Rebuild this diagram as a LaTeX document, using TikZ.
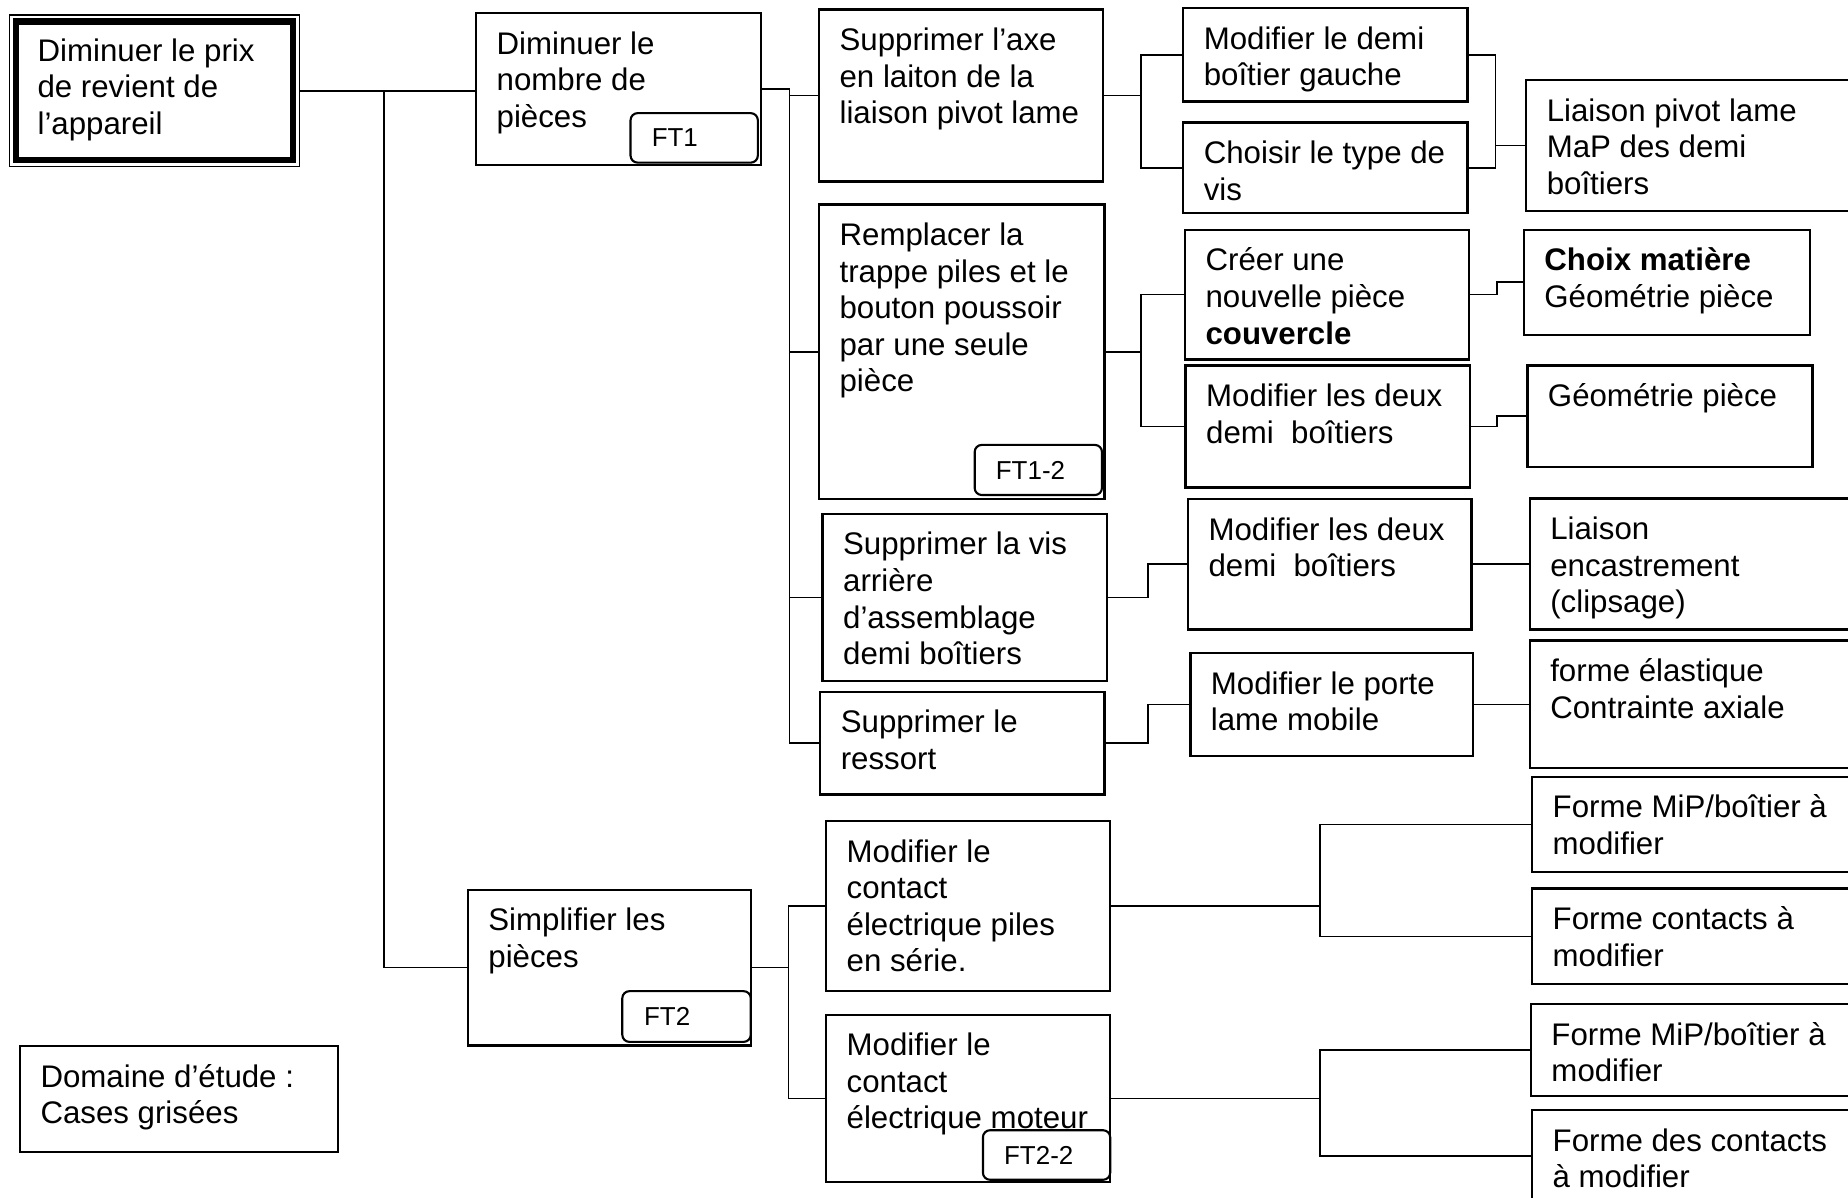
\documentclass[tikz,border=0pt]{standalone}
\usepackage{fontspec}
\setmainfont{Liberation Sans}
\tikzset{
  boxst/.style={draw, line width=1pt, inner sep=0pt, rectangle},
  txtst/.style={font=\fontsize{13.25}{15.5}\selectfont, align=left, inner sep=0pt, anchor=north west},
  tagst/.style={draw, fill=white, line width=0.9pt, rounded corners=3pt, inner sep=0pt,
                text width=36pt, align=left, font=\fontsize{11}{13}\selectfont},
  conn/.style={line width=0.7pt}
}
\newcommand\mkbox[6]{%
  \node[boxst, minimum width={(#4-#2)*0.5pt}, minimum height={(#5-#3)*0.5pt}] (#1) at ({(#2+#4)/2},{(#3+#5)/2}) {};
  \node[txtst] (#1t) at ([xshift=9pt,yshift=-6.9pt]#1.north west) {\strut #6};
}
\newcommand\mktag[6]{%
  \node[tagst, minimum width={(#4-#2)*0.5pt}, minimum height={(#5-#3)*0.5pt}] (#1) at ({(#2+#4)/2},{(#3+#5)/2}) {#6};
}
\begin{document}
\begin{tikzpicture}[x=0.5pt,y=-0.5pt]
\useasboundingbox (0,0) rectangle (1568,1016);
\fill[white] (0,0) rectangle (1568,1016);
\clip (0,0) rectangle (1568,1016);

% main box
\node[draw, line width=0.5pt, inner sep=0pt, minimum width={(254-8.4)*0.5pt}, minimum height={(141.4-12.7)*0.5pt}] (A) at ({(8.4+254)/2},{(12.7+141.4)/2}) {};
\draw[line width=2.6pt] ([shift={(3pt,-3pt)}]A.north west) rectangle ([shift={(-3pt,3pt)}]A.south east);
\node[txtst] (At) at ([xshift=11.8pt,yshift=-8.9pt]A.north west) {\strut Diminuer le prix\\de revient de\\l’appareil};

% level 2
\mkbox{B1}{404}{11}{645.5}{140}{Diminuer le\\nombre de\\pièces}
\mkbox{B2}{397}{755}{637}{887}{Simplifier les\\pièces}

% level 3
\mkbox{C1}{695}{8}{936}{154}{Supprimer l’axe\\en laiton de la\\liaison pivot lame}
\mkbox{C2}{695}{173.5}{937}{423.4}{Remplacer la\\trappe piles et le\\bouton poussoir\\par une seule\\pièce}
\mkbox{C3}{698}{436}{939}{578}{Supprimer la vis\\arrière\\d’assemblage\\demi boîtiers}
\mkbox{C4}{696}{587}{937}{674}{Supprimer le\\ressort}
\mkbox{C5}{701}{696.5}{942}{841}{Modifier le\\contact\\électrique piles\\en série.}
\mkbox{C6}{701}{861}{942}{1003}{Modifier le\\contact\\électrique moteur}

% level 4
\mkbox{D1}{1004}{7}{1245}{86}{Modifier le demi\\boîtier gauche}
\mkbox{D2}{1004}{104}{1245}{181}{Choisir le type de\\vis}
\mkbox{D3}{1005.5}{195}{1246.5}{305}{Créer une\\nouvelle pièce\\\textbf{couvercle}}
\mkbox{D4}{1006}{310}{1247.5}{413.6}{Modifier les deux\\demi\ \ boîtiers}
\mkbox{D5}{1008}{423.6}{1248.5}{534}{Modifier les deux\\demi\ \ boîtiers}
\mkbox{D6}{1010}{554}{1250}{641.5}{Modifier le porte\\lame mobile}

% level 5
\mkbox{E1}{1295}{68}{1590}{179}{Liaison pivot lame\\MaP des demi\\boîtiers}
\mkbox{E2}{1293}{195}{1536}{284}{\textbf{Choix matière}\\Géométrie pièce}
\mkbox{E3}{1296}{310}{1538}{396}{Géométrie pièce}
\mkbox{E4}{1298}{423}{1590}{534}{Liaison\\encastrement\\(clipsage)}
\mkbox{E5}{1298}{543.6}{1590}{651.7}{forme élastique\\Contrainte axiale}
\mkbox{E6}{1300}{659}{1590}{740}{Forme MiP/boîtier à\\modifier}
\mkbox{E7}{1300}{754}{1590}{835}{Forme contacts à\\modifier}
\mkbox{E8}{1299}{852}{1590}{930}{Forme MiP/boîtier à\\modifier}
\mkbox{E9}{1300}{942}{1590}{1020}{Forme des contacts\\à modifier}

% legend
\mkbox{Dom}{17}{887.5}{287}{977.5}{Domaine d’étude :\\Cases grisées}

% junction x positions
\coordinate (j0) at (326,0);
\coordinate (j1) at (670,0);
\coordinate (j2) at (968,0);
\coordinate (j3) at (1269,0);
\coordinate (j5) at (1270,0);
\coordinate (j6) at (974,0);
\coordinate (j7) at (669,0);
\coordinate (j8) at (1120,0);

% connectors
\draw[conn] (A.east) -- (A.east -| B1.west);
\draw[conn] (A.east -| j0) |- (B2.west);

\draw[conn] (B1.east) -- (B1.east -| j1) -- (C4.west -| j1) -- (C4.west);
\draw[conn] (C1.west -| j1) -- (C1.west);
\draw[conn] (C2.west -| j1) -- (C2.west);
\draw[conn] (C3.west -| j1) -- (C3.west);

\draw[conn] (C1.east) -- (C1.east -| j2);
\draw[conn] (D1.west) -- (D1.west -| j2) -- (D2.west -| j2) -- (D2.west);
\draw[conn] (D1.east) -- (D1.east -| j3) -- (D2.east -| j3) -- (D2.east);
\draw[conn] (E1.west -| j3) -- (E1.west);

\draw[conn] (C2.east) -- (C2.east -| j2);
\draw[conn] (D3.west) -- (D3.west -| j2) -- (D4.west -| j2) -- (D4.west);
\draw[conn] (D3.east) -- (D3.east -| j5) -- (E2.west -| j5) -- (E2.west);
\draw[conn] (D4.east) -- (D4.east -| j5) -- (E3.west -| j5) -- (E3.west);

\draw[conn] (C3.east) -- (C3.east -| j6) -- (D5.west -| j6) -- (D5.west);
\draw[conn] (D5.east) -- (E4.west |- D5.east);
\draw[conn] (C4.east) -- (C4.east -| j6) -- (D6.west -| j6) -- (D6.west);
\draw[conn] (D6.east) -- (E5.west |- D6.east);

\draw[conn] (B2.east) -- (B2.east -| j7);
\draw[conn] (C5.west) -- (C5.west -| j7) -- (C6.west -| j7) -- (C6.west);
\draw[conn] (C5.east) -- (C5.east -| j8);
\draw[conn] (E6.west) -- (E6.west -| j8) -- (E7.west -| j8) -- (E7.west);
\draw[conn] (C6.east) -- (C6.east -| j8);
\draw[conn] (E8.west) -- (E8.west -| j8) -- (E9.west -| j8) -- (E9.west);

% tags
\mktag{T1}{535}{96}{643}{138}{FT1}
\mktag{T12}{827}{377.5}{935}{420}{FT1-2}
\mktag{T2}{528}{841}{637}{884}{FT2}
\mktag{T22}{834}{959}{942}{1001}{FT2-2}
\end{tikzpicture}
\end{document}
